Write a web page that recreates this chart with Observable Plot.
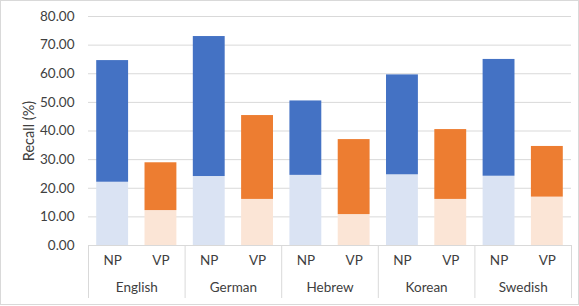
<!DOCTYPE html>
<html>
<head>
<meta charset="utf-8">
<script src="https://cdn.jsdelivr.net/npm/d3@7"></script>
<script src="https://cdn.jsdelivr.net/npm/@observablehq/plot@0.6"></script>
<style>
  html, body { margin: 0; padding: 0; background: #fff; }
  #wrap { position: relative; width: 579px; height: 306px; }
  #border { position: absolute; left: 0; top: 0; width: 577px; height: 303px; border: 1px solid #d9d9d9; pointer-events: none; }
</style>
</head>
<body>
<div id="wrap"><div id="border"></div></div>
<script>
// ---- data ----
const languages = ["English", "German", "Hebrew", "Korean", "Swedish"];
const types = ["NP", "VP"];
const npTotal = [64.6, 73.0, 50.5, 59.6, 65.0];
const npPart  = [22.1, 24.1, 24.5, 24.7, 24.2];
const vpTotal = [28.9, 45.4, 37.0, 40.5, 34.6];
const vpPart  = [12.2, 16.1, 10.8, 16.1, 16.9];
const yTicks = [0, 10, 20, 30, 40, 50, 60, 70, 80];
const yLabel = "Recall (%)";

// ---- table ----
const totals = {NP: npTotal, VP: vpTotal};
const parts = {NP: npPart, VP: vpPart};
const rows = [];
languages.forEach((lang, i) => {
  types.forEach((t, j) => {
    rows.push({language: lang, type: t, pos: i * types.length + j, total: totals[t][i], part: parts[t][i]});
  });
});
const n = types.length;
const posLabel = new Map(rows.map(r => [r.pos, r.type]));
const groupCenters = languages.map((_, i) => i * n + (n - 1) / 2);
const groupLabel = new Map(languages.map((l, i) => [groupCenters[i], l]));
const boundaries = d3.range(languages.length + 1).map(i => i * n - 0.5);
const half = 0.33;

const colorDomain = ["NP total", "VP total", "NP part", "VP part"];
const colorRange = ["#4472C4", "#ED7D31", "#DAE3F3", "#FBE5D6"];

const font = "Lato, 'Open Sans', sans-serif";

const chart = Plot.plot({
  width: 579,
  height: 306,
  marginLeft: 88,
  marginRight: 8,
  marginTop: 16,
  marginBottom: 61,
  style: {fontFamily: font, fontSize: "13.5px", color: "#404040", background: "transparent"},
  x: {type: "linear", domain: [-0.5, languages.length * n - 0.5], axis: null},
  y: {domain: [0, 80], axis: null},
  color: {domain: colorDomain, range: colorRange},
  marks: [
    Plot.gridY(yTicks, {stroke: "#d9d9d9", strokeOpacity: 1}),
    Plot.rectY(rows, {x1: d => d.pos - half, x2: d => d.pos + half, y1: 0, y2: "part", fill: d => d.type + " part"}),
    Plot.rectY(rows, {x1: d => d.pos - half, x2: d => d.pos + half, y1: "part", y2: "total", fill: d => d.type + " total"}),
    Plot.axisY(yTicks, {tickSize: 0, tickPadding: 14, tickFormat: d3.format(".2f"), fontSize: 13.5, label: null}),
    Plot.axisY([], {tickSize: 0, fontSize: 14.5, label: yLabel, labelAnchor: "center", labelOffset: 65, labelArrow: "none"}),
    Plot.axisX(boundaries, {tickSize: 53, stroke: "#d9d9d9", tickFormat: () => "", label: null}),
    Plot.axisX(rows.map(r => r.pos), {tickSize: 0, tickPadding: 10, tickFormat: d => posLabel.get(d), fontSize: 13.5, label: null}),
    Plot.axisX(groupCenters, {tickSize: 0, tickPadding: 37, tickFormat: d => groupLabel.get(d), fontSize: 13.5, label: null})
  ]
});
document.getElementById("wrap").prepend(chart);
</script>
</body>
</html>
